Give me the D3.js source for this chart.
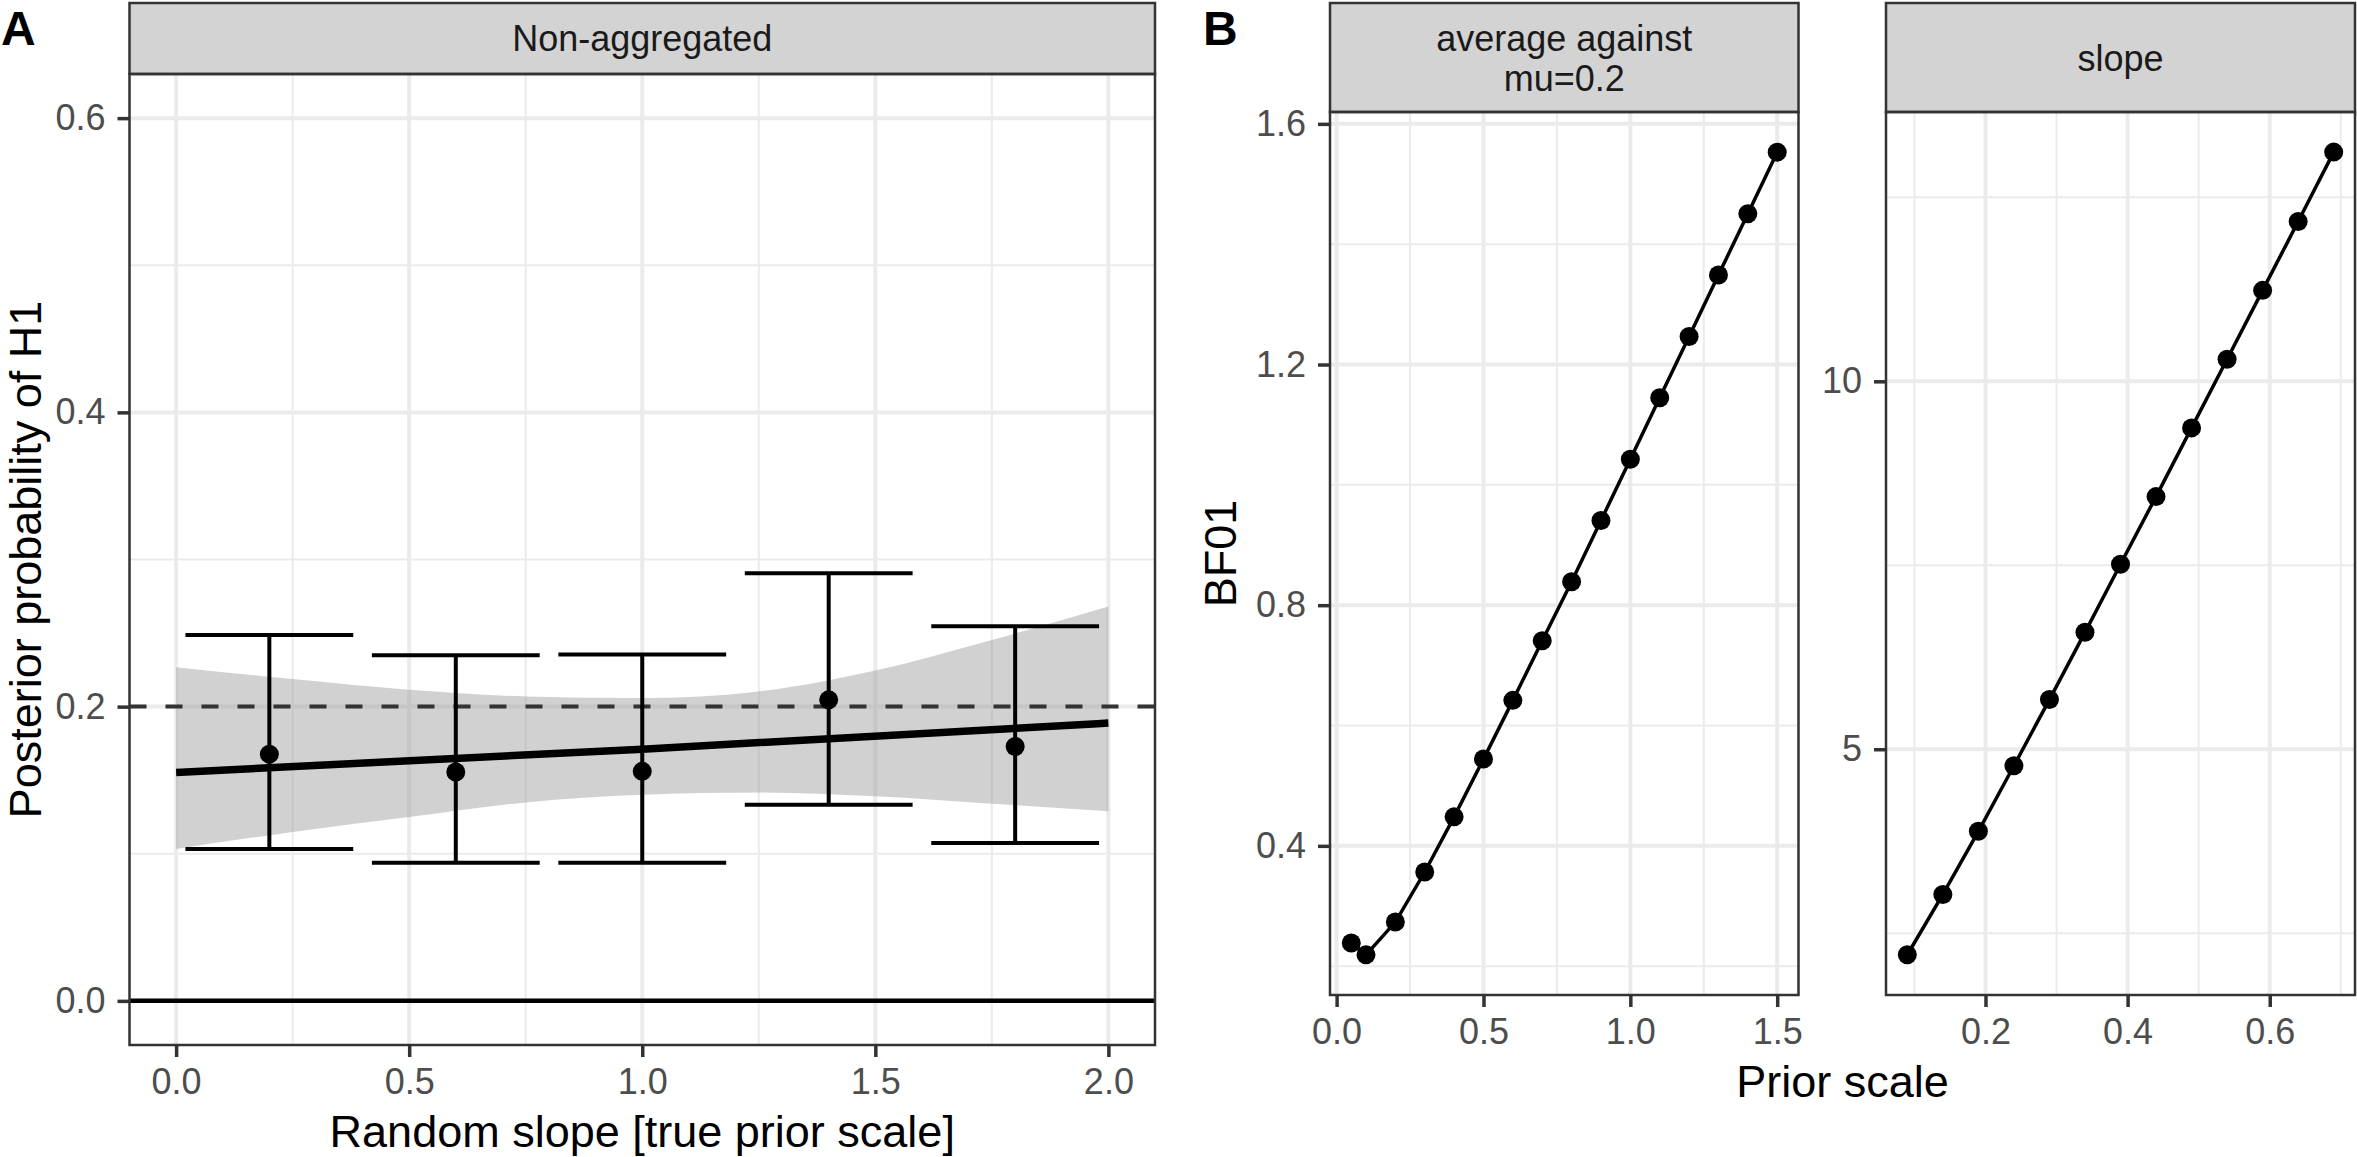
<!DOCTYPE html>
<html>
<head>
<meta charset="utf-8">
<script src="https://cdn.jsdelivr.net/npm/d3@7"></script>
<style>
	body { margin: 0; background: #ffffff; }
	svg { display: block; font-family: "Liberation Sans", Arial, Helvetica, sans-serif; }
</style>
</head>
<body>
<svg id="chart" width="2357" height="1157"></svg>
<script>

/* PANEL A DATA: posterior probability of H1 per random slope */
var slope_Values = [0.2, 0.6, 1.0, 1.4, 1.8];
var posterior_Mean = [0.1677, 0.1555, 0.1560, 0.2046, 0.1729];
var posterior_Lower = [0.1033, 0.0938, 0.0938, 0.1333, 0.1073];
var posterior_Upper = [0.2487, 0.2350, 0.2354, 0.2906, 0.2547];

/* fitted trend and its confidence band */
var fit_X = [0, 1, 2];
var fit_Y = [0.1553, 0.1711, 0.1888];
var band_X = [0, 0.25, 0.5, 0.75, 1.0, 1.25, 1.5, 1.75, 2.0];
var band_Lower = [0.1033, 0.1148, 0.1250, 0.1349, 0.1401, 0.1417, 0.1390, 0.1340, 0.1288];
var band_Upper = [0.2268, 0.2187, 0.2114, 0.2069, 0.2058, 0.2103, 0.2245, 0.2453, 0.2680];

var reference_Line = 0.2;
var zero_Line = 0.0;

var a_X_Major = [0, 0.5, 1.0, 1.5, 2.0];
var a_X_Minor = [0.25, 0.75, 1.25, 1.75];
var a_Y_Major = [0, 0.2, 0.4, 0.6];
var a_Y_Minor = [0.1, 0.3, 0.5];

/* PANEL B DATA: BF01 against prior scale */
var prior_Scale_Average = [0.05, 0.1, 0.2, 0.3, 0.4, 0.5, 0.6, 0.7, 0.8, 0.9, 1.0, 1.1, 1.2, 1.3, 1.4, 1.5];
var bf01_Average = [0.2384, 0.2188, 0.2733, 0.3565, 0.4482, 0.5442, 0.6418, 0.7410, 0.8389, 0.9407,
                    1.0427, 1.1447, 1.2467, 1.3487, 1.4507, 1.5530];

var prior_Scale_Slope = [0.09, 0.14, 0.19, 0.24, 0.29, 0.34, 0.39, 0.44, 0.49, 0.54, 0.59, 0.64, 0.69];
var bf01_Slope = [2.207, 3.026, 3.885, 4.775, 5.675, 6.589, 7.514, 8.433, 9.367, 10.30, 11.236, 12.171, 13.115];

var b1_X_Major = [0, 0.5, 1.0, 1.5];
var b1_X_Minor = [0.25, 0.75, 1.25];
var b1_Y_Major = [0.4, 0.8, 1.2, 1.6];
var b1_Y_Minor = [0.2, 0.6, 1.0, 1.4];

var b2_X_Major = [0.2, 0.4, 0.6];
var b2_X_Minor = [0.1, 0.3, 0.5, 0.7];
var b2_Y_Major = [5, 10];
var b2_Y_Minor = [2.5, 7.5, 12.5];

/* APPLICATION COLOURS */
var grid_Colour = "#EBEBEB";
var border_Colour = "#333333";
var strip_Colour = "#D3D3D3";
var tick_Text_Colour = "#4D4D4D";
var ribbon_Colour = "#999999";

var svg = d3.select("#chart");

/*
	Name:		draw_Panel
	Operations:	1) grid lines (minor then major)
				2) strip with its label lines
				3) axes with ticks and labels
				returns group for the data layer; border drawn by finish_Panel
*/
function draw_Panel(p) {

	var g = svg.append("g");

	g.append("rect")
		.attr("x", p.left).attr("y", p.top)
		.attr("width", p.right - p.left).attr("height", p.bottom - p.top)
		.attr("fill", "#ffffff");

	p.x_Minor.forEach(function(v) {
		g.append("line").attr("x1", p.x(v)).attr("x2", p.x(v))
			.attr("y1", p.top).attr("y2", p.bottom)
			.attr("stroke", grid_Colour).attr("stroke-width", 2);
	});
	p.y_Minor.forEach(function(v) {
		g.append("line").attr("y1", p.y(v)).attr("y2", p.y(v))
			.attr("x1", p.left).attr("x2", p.right)
			.attr("stroke", grid_Colour).attr("stroke-width", 2);
	});
	p.x_Major.forEach(function(v) {
		g.append("line").attr("x1", p.x(v)).attr("x2", p.x(v))
			.attr("y1", p.top).attr("y2", p.bottom)
			.attr("stroke", grid_Colour).attr("stroke-width", 4);
	});
	p.y_Major.forEach(function(v) {
		g.append("line").attr("y1", p.y(v)).attr("y2", p.y(v))
			.attr("x1", p.left).attr("x2", p.right)
			.attr("stroke", grid_Colour).attr("stroke-width", 4);
	});

	/* strip */
	g.append("rect")
		.attr("x", p.left).attr("y", 3)
		.attr("width", p.right - p.left).attr("height", p.top - 3)
		.attr("fill", strip_Colour)
		.attr("stroke", border_Colour).attr("stroke-width", 2.5);

	p.strip_Lines.forEach(function(txt, i) {
		g.append("text")
			.attr("x", (p.left + p.right) / 2)
			.attr("y", p.strip_Baseline + i * 40)
			.attr("text-anchor", "middle")
			.attr("font-size", 36)
			.attr("fill", "#1A1A1A")
			.text(txt);
	});

	/* axes */
	var x_Axis = g.append("g")
		.attr("transform", "translate(0," + p.bottom + ")")
		.call(d3.axisBottom(p.x).tickValues(p.x_Major).tickFormat(d3.format(".1f"))
			.tickSize(12).tickPadding(11));

	var y_Axis = g.append("g")
		.attr("transform", "translate(" + p.left + ",0)")
		.call(d3.axisLeft(p.y).tickValues(p.y_Major).tickFormat(p.y_Format)
			.tickSize(12).tickPadding(12));

	[x_Axis, y_Axis].forEach(function(a) {
		a.select(".domain").remove();
		a.selectAll(".tick line").attr("stroke", border_Colour).attr("stroke-width", 3.5);
		a.selectAll(".tick text")
			.attr("font-size", 36)
			.attr("font-family", "Liberation Sans, Arial, sans-serif")
			.attr("fill", tick_Text_Colour);
	});

	return svg.append("g");
}

function finish_Panel(p) {
	svg.append("rect")
		.attr("x", p.left).attr("y", p.top)
		.attr("width", p.right - p.left).attr("height", p.bottom - p.top)
		.attr("fill", "none")
		.attr("stroke", border_Colour).attr("stroke-width", 2.5);
}

/* ---------------- PANEL A ---------------- */
var panel_A = {
	left: 129.5, right: 1155, top: 74, bottom: 1045,
	x: d3.scaleLinear().domain([-0.1, 2.1]).range([129.5, 1155]),
	y: d3.scaleLinear().domain([-0.03, 0.63]).range([1045, 74]),
	x_Major: a_X_Major, x_Minor: a_X_Minor,
	y_Major: a_Y_Major, y_Minor: a_Y_Minor,
	y_Format: d3.format(".1f"),
	strip_Lines: ["Non-aggregated"], strip_Baseline: 51
};

var layer_A = draw_Panel(panel_A);

layer_A.append("line")
	.attr("x1", panel_A.left).attr("x2", panel_A.right)
	.attr("y1", panel_A.y(zero_Line)).attr("y2", panel_A.y(zero_Line))
	.attr("stroke", "#000000").attr("stroke-width", 4.5);

var band_Data = band_X.map(function(v, i) { return { x: v, lo: band_Lower[i], hi: band_Upper[i] }; });

layer_A.append("path")
	.datum(band_Data)
	.attr("d", d3.area()
		.x(function(d) { return panel_A.x(d.x); })
		.y0(function(d) { return panel_A.y(d.lo); })
		.y1(function(d) { return panel_A.y(d.hi); })
		.curve(d3.curveMonotoneX))
	.attr("fill", ribbon_Colour)
	.attr("fill-opacity", 0.45);

layer_A.append("path")
	.datum(fit_X.map(function(v, i) { return [v, fit_Y[i]]; }))
	.attr("d", d3.line()
		.x(function(d) { return panel_A.x(d[0]); })
		.y(function(d) { return panel_A.y(d[1]); })
		.curve(d3.curveMonotoneX))
	.attr("fill", "none")
	.attr("stroke", "#000000")
	.attr("stroke-width", 7.5);

layer_A.append("line")
	.attr("x1", panel_A.left).attr("x2", panel_A.right)
	.attr("y1", panel_A.y(reference_Line)).attr("y2", panel_A.y(reference_Line))
	.attr("stroke", "#333333").attr("stroke-width", 4)
	.attr("stroke-dasharray", "17,19");

var cap_Half = 0.18;

slope_Values.forEach(function(v, i) {

	var bar = layer_A.append("g");

	bar.append("line")
		.attr("x1", panel_A.x(v)).attr("x2", panel_A.x(v))
		.attr("y1", panel_A.y(posterior_Lower[i])).attr("y2", panel_A.y(posterior_Upper[i]))
		.attr("stroke", "#000000").attr("stroke-width", 4);

	[posterior_Lower[i], posterior_Upper[i]].forEach(function(e) {
		bar.append("line")
			.attr("x1", panel_A.x(v - cap_Half)).attr("x2", panel_A.x(v + cap_Half))
			.attr("y1", panel_A.y(e)).attr("y2", panel_A.y(e))
			.attr("stroke", "#000000").attr("stroke-width", 4);
	});

	bar.append("circle")
		.attr("cx", panel_A.x(v))
		.attr("cy", panel_A.y(posterior_Mean[i]))
		.attr("r", 9.5)
		.attr("fill", "#000000");
});

finish_Panel(panel_A);

/* ---------------- PANEL B ---------------- */
var panel_B1 = {
	left: 1330, right: 1798.5, top: 112, bottom: 995,
	x: d3.scaleLinear().domain([-0.0225, 1.5725]).range([1330, 1798.5]),
	y: d3.scaleLinear().domain([0.1521, 1.6197]).range([995, 112]),
	x_Major: b1_X_Major, x_Minor: b1_X_Minor,
	y_Major: b1_Y_Major, y_Minor: b1_Y_Minor,
	y_Format: d3.format(".1f"),
	strip_Lines: ["average against", "mu=0.2"], strip_Baseline: 51
};

var panel_B2 = {
	left: 1886, right: 2355, top: 112, bottom: 995,
	x: d3.scaleLinear().domain([0.06, 0.72]).range([1886, 2355]),
	y: d3.scaleLinear().domain([1.66, 13.66]).range([995, 112]),
	x_Major: b2_X_Major, x_Minor: b2_X_Minor,
	y_Major: b2_Y_Major, y_Minor: b2_Y_Minor,
	y_Format: d3.format("d"),
	strip_Lines: ["slope"], strip_Baseline: 71
};

function draw_Series(p, xs, ys) {

	var layer = draw_Panel(p);

	layer.append("path")
		.datum(xs.map(function(v, i) { return [v, ys[i]]; }))
		.attr("d", d3.line()
			.x(function(d) { return p.x(d[0]); })
			.y(function(d) { return p.y(d[1]); }))
		.attr("fill", "none")
		.attr("stroke", "#000000")
		.attr("stroke-width", 3.5);

	layer.selectAll("circle")
		.data(xs)
		.enter().append("circle")
		.attr("cx", function(d) { return p.x(d); })
		.attr("cy", function(d, i) { return p.y(ys[i]); })
		.attr("r", 9.5)
		.attr("fill", "#000000");

	finish_Panel(p);
}

draw_Series(panel_B1, prior_Scale_Average, bf01_Average);
draw_Series(panel_B2, prior_Scale_Slope, bf01_Slope);

/* ---------------- TITLES ---------------- */
svg.append("text")
	.attr("x", (panel_A.left + panel_A.right) / 2).attr("y", 1147)
	.attr("text-anchor", "middle").attr("font-size", 45)
	.text("Random slope [true prior scale]");

svg.append("text")
	.attr("transform", "translate(41," + (panel_A.top + panel_A.bottom) / 2 + ") rotate(-90)")
	.attr("text-anchor", "middle").attr("font-size", 45)
	.text("Posterior probability of H1");

svg.append("text")
	.attr("x", (panel_B1.left + panel_B2.right) / 2).attr("y", 1097)
	.attr("text-anchor", "middle").attr("font-size", 45)
	.text("Prior scale");

svg.append("text")
	.attr("transform", "translate(1236," + (panel_B1.top + panel_B1.bottom) / 2 + ") rotate(-90)")
	.attr("text-anchor", "middle").attr("font-size", 45)
	.text("BF01");

svg.append("text")
	.attr("x", 1).attr("y", 45)
	.attr("font-size", 48).attr("font-weight", "bold")
	.text("A");

svg.append("text")
	.attr("x", 1203).attr("y", 45)
	.attr("font-size", 48).attr("font-weight", "bold")
	.text("B");

</script>
</body>
</html>
